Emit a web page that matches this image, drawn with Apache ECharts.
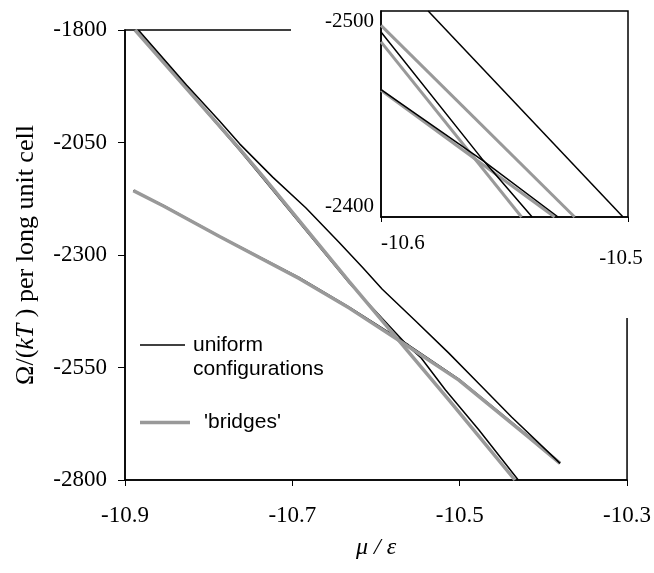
<!DOCTYPE html>
<html><head><meta charset="utf-8">
<script src="https://cdn.jsdelivr.net/npm/echarts@6/dist/echarts.min.js"></script>
<style>html,body{margin:0;padding:0;background:#fff}#c{width:654px;height:573px}</style>
</head><body><div id="c"></div>
<script>
// ---- tick values ----
const xTicksMain = [-10.9, -10.7, -10.5, -10.3];
const yTicksMain = [-2800, -2550, -2300, -2050, -1800];
const xTicksInset = [-10.6, -10.5];
const yTicksInset = [-2500, -2400];

// ---- legend names ----
const nameUniform = 'uniform configurations';
const nameBridges = "'bridges'";

// ---- main panel: uniform configurations (black) ----
const uniformUpper = [[-10.884,-1800],[-10.8265,-1922],[-10.787,-2002],[-10.763,-2053],[-10.7235,-2127],[-10.684,-2195],[-10.644,-2272],[-10.616,-2328],[-10.5925,-2376],[-10.553,-2446],[-10.513,-2518],[-10.477,-2586],[-10.438,-2660],[-10.380,-2763]];
const uniformSteep = [[-10.887,-1800],[-10.763,-2067],[-10.736,-2128],[-10.632,-2362],[-10.561,-2504],[-10.546,-2529],[-10.517,-2600],[-10.477,-2689],[-10.430,-2800]];
const uniformShallow = [[-10.890,-2157],[-10.854,-2190],[-10.787,-2258],[-10.692,-2350],[-10.632,-2416],[-10.561,-2500],[-10.501,-2576],[-10.418,-2702],[-10.380,-2762]];
// ---- main panel: 'bridges' (grey) ----
const bridgesSteep = [[-10.888,-1800],[-10.763,-2064],[-10.735,-2126],[-10.632,-2359],[-10.513,-2622],[-10.434,-2800]];
const bridgesShallow = [[-10.890,-2157],[-10.854,-2191],[-10.787,-2259],[-10.692,-2352],[-10.632,-2418],[-10.561,-2504],[-10.501,-2578],[-10.418,-2704],[-10.380,-2763]];

// ---- inset panel ----
const insetUniformA = [[-10.5809,-2500],[-10.502,-2400]];
const insetUniformC = [[-10.6,-2489.8],[-10.5586,-2427.5],[-10.5388,-2400]];
const insetUniformF = [[-10.6,-2461.8],[-10.5586,-2427.2],[-10.5283,-2400]];
const insetBridgesB = [[-10.6,-2493.0],[-10.5216,-2400]];
const insetBridgesE = [[-10.6,-2485.0],[-10.5431,-2400]];
const insetBridgesD = [[-10.6,-2461.5],[-10.5297,-2400]];

const BLACK = '#000';
const GREY = '#999';
const serif = 'Liberation Serif';
const sans = 'Liberation Sans';

function ln(name, data, color, width, xi, z) {
  return { type: 'line', name, data, xAxisIndex: xi, yAxisIndex: xi, symbol: 'none', showSymbol: false,
    lineStyle: { color, width }, itemStyle: { color }, z, silent: true };
}

const chart = echarts.init(document.getElementById('c'), null, { renderer: 'canvas' });
chart.setOption({
  animation: false,
  backgroundColor: '#fff',
  grid: [
    { left: 125, top: 30, right: 25, bottom: 93, show: true, borderColor: BLACK, borderWidth: 1.5, z: 0 },
    { left: 381, top: 11, width: 247, height: 206, show: true, borderColor: BLACK, borderWidth: 1.5, backgroundColor: '#fff', z: 3 }
  ],
  graphic: [
    { type: 'rect', z: 1, shape: { x: 291, y: 15, width: 355, height: 303 }, style: { fill: '#fff' } }
  ],
  xAxis: [
    { type: 'value', gridIndex: 0, min: xTicksMain[0], max: xTicksMain[xTicksMain.length - 1],
      interval: +(xTicksMain[1] - xTicksMain[0]).toFixed(2), splitLine: { show: false },
      axisLine: { show: true, onZero: false, lineStyle: { color: BLACK, width: 1.5 } },
      axisTick: { show: true, inside: false, length: 6, lineStyle: { color: BLACK, width: 1 } },
      axisLabel: { margin: 24, color: BLACK, fontFamily: serif, fontSize: 23, formatter: v => v.toFixed(1) },
      name: 'μ / ε', nameLocation: 'middle', nameGap: 56,
      nameTextStyle: { fontFamily: serif, fontStyle: 'italic', fontSize: 24, color: BLACK } },
    { type: 'value', gridIndex: 1, min: xTicksInset[0], max: xTicksInset[xTicksInset.length - 1],
      interval: +(xTicksInset[1] - xTicksInset[0]).toFixed(2), splitLine: { show: false }, z: 3,
      axisLine: { show: true, onZero: false, lineStyle: { color: BLACK, width: 1.5 } },
      axisTick: { show: true, inside: false, length: 5, lineStyle: { color: BLACK, width: 1 } },
      axisLabel: { margin: 16, color: BLACK, fontFamily: serif, fontSize: 21, alignMinLabel: 'left',
        formatter: v => (Math.abs(v - xTicksInset[xTicksInset.length - 1]) < 1e-6 ? '{m|' + v.toFixed(1) + '}' : v.toFixed(1)),
        rich: { m: { fontFamily: serif, fontSize: 21, color: BLACK, padding: [15, 14, 0, 0] } } } }
  ],
  yAxis: [
    { type: 'value', gridIndex: 0, min: yTicksMain[0], max: yTicksMain[yTicksMain.length - 1],
      interval: yTicksMain[1] - yTicksMain[0], splitLine: { show: false },
      axisLine: { show: true, onZero: false, lineStyle: { color: BLACK, width: 1.5 } },
      axisTick: { show: true, inside: false, length: 7, lineStyle: { color: BLACK, width: 1 } },
      axisLabel: { margin: 18, color: BLACK, fontFamily: serif, fontSize: 23, formatter: v => String(v) },
      name: '{a|Ω/(}{b|kT}{a| ) per long unit cell}', nameLocation: 'middle', nameGap: 86,
      nameTextStyle: { rich: {
        a: { fontFamily: serif, fontSize: 26, color: BLACK },
        b: { fontFamily: serif, fontStyle: 'italic', fontSize: 26, color: BLACK } } } },
    { type: 'value', gridIndex: 1, min: yTicksInset[0], max: yTicksInset[yTicksInset.length - 1],
      interval: yTicksInset[1] - yTicksInset[0], inverse: true, splitLine: { show: false }, z: 3,
      axisLine: { show: true, onZero: false, lineStyle: { color: BLACK, width: 1.5 } },
      axisTick: { show: false },
      axisLabel: { margin: 7, color: BLACK, fontFamily: serif, fontSize: 21, formatter: v => String(v),
        verticalAlignMinLabel: 'top', verticalAlignMaxLabel: 'bottom' } }
  ],
  legend: [
    { data: [{ name: nameUniform, icon: 'rect' }], left: 140, top: 309, padding: 0, selectedMode: false, orient: 'vertical',
      itemWidth: 45, itemHeight: 1.5,
      formatter: () => '\nuniform\nconfigurations',
      textStyle: { fontFamily: sans, fontSize: 21, color: BLACK, lineHeight: 24, padding: [0, 0, 0, 3] } },
    { data: [{ name: nameBridges, icon: 'rect' }], left: 140, top: 412, padding: 0, selectedMode: false, orient: 'vertical',
      itemWidth: 50, itemHeight: 3.5,
      formatter: n => '{b|' + n + '}',
      textStyle: { fontFamily: sans, fontSize: 21, color: BLACK,
        rich: { b: { fontFamily: sans, fontSize: 21, color: BLACK, lineHeight: 24, padding: [0, 0, 0, 9] } } } }
  ],
  series: [
    ln(nameUniform, uniformSteep, BLACK, 1.5, 0, 2),
    ln(nameUniform, uniformShallow, BLACK, 1.5, 0, 2),
    ln(nameBridges, bridgesSteep, GREY, 3.5, 0, 2),
    ln(nameBridges, bridgesShallow, GREY, 3.5, 0, 2),
    ln(nameUniform, uniformUpper, BLACK, 1.5, 0, 2),
    ln(nameBridges, insetBridgesB, GREY, 3, 1, 4),
    ln(nameBridges, insetBridgesE, GREY, 3, 1, 4),
    ln(nameBridges, insetBridgesD, GREY, 3, 1, 4),
    ln(nameUniform, insetUniformA, BLACK, 1.5, 1, 4),
    ln(nameUniform, insetUniformC, BLACK, 1.5, 1, 4),
    ln(nameUniform, insetUniformF, BLACK, 1.5, 1, 4)
  ]
});
</script></body></html>
